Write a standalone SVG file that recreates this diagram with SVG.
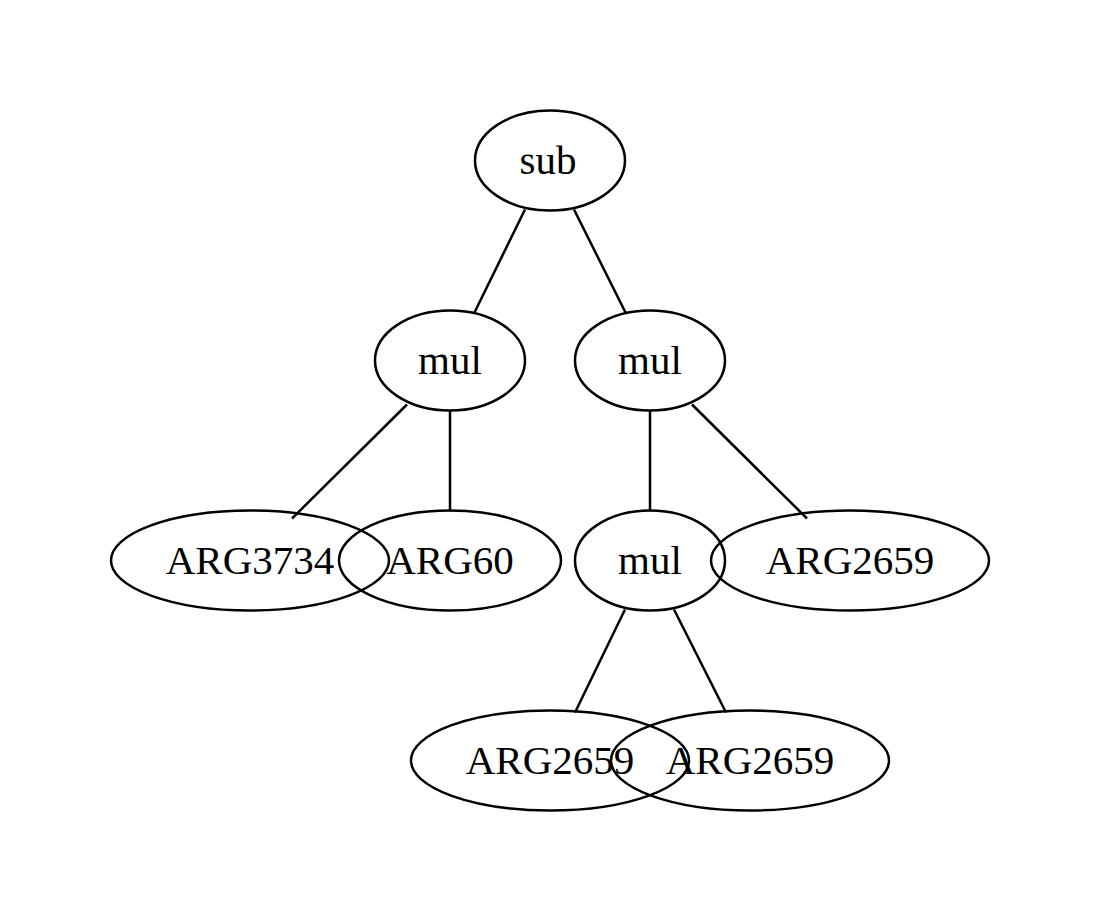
<svg xmlns="http://www.w3.org/2000/svg" width="1100" height="923" viewBox="0 0 1100 923">
<style>
.n ellipse{fill:none;stroke:#000;stroke-width:2.5}
.n text{font-family:"Liberation Serif",serif;font-size:41px;text-anchor:middle;fill:#000}
.e line{stroke:#000;stroke-width:2.5}
</style>
<rect width="1100" height="923" fill="#fff"/>
<g class="e">
<line x1="525" y1="209.5" x2="474" y2="313.5"/>
<line x1="574" y1="209.5" x2="626" y2="313.5"/>
<line x1="407" y1="404.5" x2="292" y2="518.5"/>
<line x1="450" y1="410.5" x2="450" y2="511.5"/>
<line x1="650" y1="410.5" x2="650" y2="511.5"/>
<line x1="692" y1="404.5" x2="807" y2="518.5"/>
<line x1="625" y1="609.5" x2="575" y2="712.5"/>
<line x1="674" y1="609.5" x2="726" y2="712.5"/>
</g>
<g id="n0" class="n"><ellipse cx="550" cy="160.5" rx="75" ry="50"/><text x="548" y="173.5">sub</text></g>
<g id="n1" class="n"><ellipse cx="450" cy="360.5" rx="75" ry="50"/><text x="450" y="373.5">mul</text></g>
<g id="n2" class="n"><ellipse cx="650" cy="360.5" rx="75" ry="50"/><text x="650" y="373.5">mul</text></g>
<g id="n3" class="n"><ellipse cx="250" cy="560.5" rx="139" ry="50"/><text x="250" y="573.5">ARG3734</text></g>
<g id="n4" class="n"><ellipse cx="450" cy="560.5" rx="111" ry="50"/><text x="450" y="573.5">ARG60</text></g>
<g id="n5" class="n"><ellipse cx="650" cy="560.5" rx="75" ry="50"/><text x="650" y="573.5">mul</text></g>
<g id="n6" class="n"><ellipse cx="850" cy="560.5" rx="139" ry="50"/><text x="850" y="573.5">ARG2659</text></g>
<g id="n7" class="n"><ellipse cx="550" cy="760.5" rx="139" ry="50"/><text x="550" y="773.5">ARG2659</text></g>
<g id="n8" class="n"><ellipse cx="750" cy="760.5" rx="139" ry="50"/><text x="750" y="773.5">ARG2659</text></g>
</svg>
